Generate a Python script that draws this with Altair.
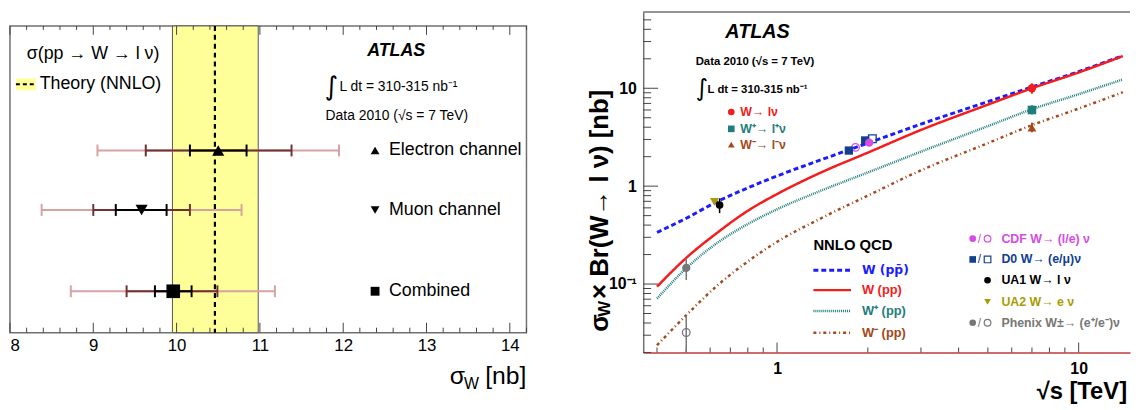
import altair as alt
import pandas as pd

# ---------------- left panel data ----------------
channels = ["Electron channel", "Muon channel", "Combined"]
channel_pos = [0.594, 0.400, 0.135]
channel_shape = ["triangle-up", "triangle-down", "square"]
channel_size = [150, 150, 190]
sigma_central = [10.50, 9.58, 9.96]
inner_lo = [10.16, 9.27, 9.74]
inner_hi = [10.84, 9.88, 10.18]
mid_lo = [9.63, 9.00, 9.40]
mid_hi = [11.38, 10.16, 10.49]
outer_lo = [9.05, 8.38, 8.73]
outer_hi = [11.95, 10.78, 11.18]
theory_central = [10.46]
theory_lo = [9.95]
theory_hi = [10.98]
left_major_ticks = [8, 9, 10, 11, 12, 13, 14]
left_minor_ticks = [round(8 + 0.2 * i, 1) for i in range(32) if i % 5 != 0]

# ---------------- right panel data ----------------
sqrt_s = [0.4, 0.5, 0.63, 0.8, 1.0, 1.4, 2.0, 3.0, 5.0, 7.0, 10.0, 14.0]
nnlo_w_ppbar = [0.337, 0.47, 0.69, 0.96, 1.27, 1.86, 2.75, 4.3, 7.3, 10.3, 14.8, 21.5]
nnlo_w_pp = [0.094, 0.185, 0.33, 0.56, 0.83, 1.38, 2.20, 3.75, 6.8, 10.0, 14.5, 21.3]
nnlo_wplus_pp = [0.071, 0.145, 0.26, 0.41, 0.58, 0.90, 1.38, 2.25, 4.1, 6.1, 8.7, 12.3]
nnlo_wminus_pp = [0.0237, 0.048, 0.095, 0.17, 0.27, 0.47, 0.80, 1.45, 2.75, 4.2, 6.2, 9.1]

atlas_s = [7.0]
atlas_w = [10.0]; atlas_w_lo = [8.8]; atlas_w_hi = [11.2]
atlas_wp = [6.0]; atlas_wp_lo = [5.4]; atlas_wp_hi = [6.7]
atlas_wm = [3.95]; atlas_wm_lo = [3.55]; atlas_wm_hi = [4.45]
cdf_filled_s = [2.02]; cdf_filled = [2.78]
cdf_open_s = [1.82]; cdf_open = [2.49]
d0_filled_s = [1.73, 1.96]; d0_filled = [2.31, 2.93]
d0_open_s = [2.07]; d0_open = [3.05]
ua1_s = [0.645]; ua1 = [0.64]; ua1_lo = [0.53]; ua1_hi = [0.75]
ua2_s = [0.62]; ua2 = [0.69]
phenix_s = [0.5]
phenix_filled = [0.146]; phenix_filled_lo = [0.11]; phenix_filled_hi = [0.185]
phenix_open = [0.032]; phenix_open_lo = [0.02]; phenix_open_hi = [0.048]

right_major_x = [1, 10]
right_minor_x = [0.4, 0.5, 0.6, 0.7, 0.8, 0.9, 2, 3, 4, 5, 6, 7, 8, 9]
right_major_y = [0.1, 1, 10]
right_minor_y = [0.02, 0.03, 0.04, 0.05, 0.06, 0.07, 0.08, 0.09,
                 0.2, 0.3, 0.4, 0.5, 0.6, 0.7, 0.8, 0.9,
                 2, 3, 4, 5, 6, 7, 8, 9, 20, 30, 40, 50]

# ---------------- styling ----------------
FONT = "Liberation Sans"
C_BLUE = "#1c1cff"
C_RED = "#f51c1c"
C_TEAL = "#1f7e7c"
C_BROWN = "#a5481c"
C_MAG = "#d64be6"
C_D0 = "#12408f"
C_UA2 = "#a89c00"
C_PHX = "#777777"
FRAME = "#707070"

WL, HL = 522, 310
WR, HR = 492, 344


def txt(text, x, y, size, color="black", weight="normal", style="normal",
        align="left", angle=0, baseline="middle", font=FONT):
    return alt.Chart(pd.DataFrame({"t": [text]})).mark_text(
        align=align, baseline=baseline, fontSize=size, fontWeight=weight,
        fontStyle=style, color=color, angle=angle, font=font
    ).encode(x=alt.value(x), y=alt.value(y), text="t:N")


# ================= LEFT PANEL =================
xs_l = alt.Scale(domain=[8, 14.2], nice=False, zero=False)
ys_l = alt.Scale(domain=[0, 1], nice=False, zero=False)
ax_l = alt.Axis(values=left_major_ticks, format="d", ticks=False, domain=False,
                grid=False, labelFontSize=17, labelPadding=5, labelColor="black",
                title=None, labelFont=FONT)


def XL(f):
    return alt.X(f, type="quantitative", scale=xs_l, axis=ax_l)


def YL(f):
    return alt.Y(f, type="quantitative", scale=ys_l, axis=None)


band = alt.Chart(pd.DataFrame({"lo": theory_lo, "hi": theory_hi})).mark_rect(
    fill="#ffff99", stroke="#555555", strokeWidth=1
).encode(x=XL("lo"), x2="hi:Q", y=alt.value(0), y2=alt.value(HL))

theory_line = alt.Chart(pd.DataFrame({"v": theory_central})).mark_rule(
    color="black", strokeWidth=2.2, strokeDash=[5, 4]
).encode(x=XL("v"), y=alt.value(0), y2=alt.value(HL))

tick_layers_l = []
for vals, ln in [(left_major_ticks, 10), (left_minor_ticks, 5)]:
    d = pd.DataFrame({"v": vals})
    tick_layers_l.append(alt.Chart(d).mark_rule(color="#444444", strokeWidth=1).encode(
        x=XL("v"), y=alt.value(HL), y2=alt.value(HL - ln)))
    tick_layers_l.append(alt.Chart(d).mark_rule(color="#444444", strokeWidth=1).encode(
        x=XL("v"), y=alt.value(0), y2=alt.value(ln - 1)))

err_layers = []
for lo, hi, col in [(outer_lo, outer_hi, "#d6a2a2"), (mid_lo, mid_hi, "#6e3232"),
                    (inner_lo, inner_hi, "black")]:
    d = pd.DataFrame({"lo": lo, "hi": hi, "y": channel_pos})
    err_layers.append(alt.Chart(d).mark_rule(color=col, strokeWidth=2).encode(
        x=XL("lo"), x2="hi:Q", y=YL("y")))
    dc = pd.DataFrame({"v": lo + hi, "y": channel_pos + channel_pos})
    err_layers.append(alt.Chart(dc).mark_rule(color=col, strokeWidth=2, yOffset=-6, y2Offset=6).encode(
        x=XL("v"), y=YL("y"), y2="y:Q"))

ch_df = pd.DataFrame({"ch": channels, "y": channel_pos, "c": sigma_central,
                      "shape": channel_shape, "sz": channel_size})
markers_l = alt.Chart(ch_df).mark_point(filled=True, color="black", opacity=1).encode(
    x=XL("c"), y=YL("y"), shape=alt.Shape("shape:N", scale=None),
    size=alt.Size("sz:Q", scale=None))
legend_pts_l = alt.Chart(ch_df).mark_point(filled=True, color="black", opacity=1, size=80).encode(
    x=alt.value(369), y=YL("y"), shape=alt.Shape("shape:N", scale=None))
legend_txt_l = alt.Chart(ch_df).mark_text(align="left", baseline="middle", fontSize=18,
                                          font=FONT, color="black").encode(
    x=alt.value(383), y=YL("y"), text="ch:N")

swatch = alt.Chart(pd.DataFrame({"a": [0]})).mark_rect(fill="#ffff99").encode(
    x=alt.value(6), x2=alt.value(26), y=alt.value(53), y2=alt.value(65))
swatch_line = alt.Chart(pd.DataFrame({"a": [0]})).mark_rule(
    color="black", strokeWidth=2, strokeDash=[4, 3]).encode(
    x=alt.value(6), x2=alt.value(26), y=alt.value(59))

left_text = [
    txt("σ(pp → W → l ν)", 17, 28, 18),
    txt("Theory (NNLO)", 30, 59, 18),
    txt("ATLAS", 361, 25, 18, weight="bold", style="italic"),
    txt("∫", 318, 62, 26, font="DejaVu Sans"),
    txt("L dt = 310-315 nb⁻¹", 333, 62, 14),
    txt("Data 2010 (√s = 7 TeV)", 319, 91, 14),
    txt("σ", 460, 354, 25, align="right"),
    txt("W", 474, 362, 16, align="right"),
    txt("[nb]", 522, 354, 25, align="right"),
]

left = alt.layer(
    band, *tick_layers_l, theory_line, *err_layers, markers_l,
    legend_pts_l, legend_txt_l, swatch, swatch_line, *left_text
).properties(width=WL, height=HL,
             view=alt.ViewBackground(stroke=FRAME, strokeWidth=1.5, fill="white"))

spacer = alt.Chart(pd.DataFrame({"a": [0]})).mark_rule(strokeOpacity=0, strokeWidth=0).encode(
    x=alt.value(0), x2=alt.value(1), y=alt.value(0)
).properties(width=1, height=1, view=alt.ViewBackground(stroke="transparent"))

left_col = alt.vconcat(spacer, left, spacing=10)

# ================= RIGHT PANEL =================
xs_r = alt.Scale(type="log", domain=[0.36, 14.8], nice=False)
ys_r = alt.Scale(type="log", domain=[0.02, 60], nice=False)
ax_rx = alt.Axis(values=right_major_x, format="~g", ticks=False, grid=False,
                 domainColor="#c03a3a", domainWidth=1.5, labelFontSize=16,
                 labelFontWeight="bold", labelPadding=8, labelColor="black",
                 title=None, labelFont=FONT)
ax_ry = alt.Axis(values=right_major_y, ticks=False, grid=False,
                 labelExpr="datum.value < 0.5 ? '10⁻¹' : format(datum.value, '~g')",
                 domainColor=FRAME, domainWidth=1.5, labelFontSize=16,
                 labelFontWeight="bold", labelPadding=7, labelColor="black",
                 title=None, labelFont=FONT)


def XR(f):
    return alt.X(f, type="quantitative", scale=xs_r, axis=ax_rx)


def YR(f):
    return alt.Y(f, type="quantitative", scale=ys_r, axis=ax_ry)


tick_layers_r = []
for vals, ln in [(right_major_x, 10), (right_minor_x, 5)]:
    tick_layers_r.append(alt.Chart(pd.DataFrame({"v": vals})).mark_rule(
        color="#444444", strokeWidth=1).encode(x=XR("v"), y=alt.value(HR), y2=alt.value(HR - ln)))
for vals, ln in [(right_major_y, 15), (right_minor_y, 8)]:
    tick_layers_r.append(alt.Chart(pd.DataFrame({"v": vals})).mark_rule(
        color="#444444", strokeWidth=1).encode(y=YR("v"), x=alt.value(0), x2=alt.value(ln)))

top_frame = alt.Chart(pd.DataFrame({"a": [0]})).mark_rule(color=FRAME, strokeWidth=1.5).encode(
    x=alt.value(0), x2=alt.value(WR), y=alt.value(0))

curve_layers = []
for vals, col, dash, w in [
    (nnlo_wminus_pp, C_BROWN, [3, 3, 1, 3], 2.5),
    (nnlo_wplus_pp, C_TEAL, [1, 1], 2.5),
    (nnlo_w_ppbar, C_BLUE, [5, 3], 3),
    (nnlo_w_pp, C_RED, [1, 0], 2.5),
]:
    d = pd.DataFrame({"s": sqrt_s, "v": vals})
    curve_layers.append(alt.Chart(d).mark_line(color=col, strokeWidth=w, strokeDash=dash,
                                               interpolate="monotone").encode(
        x=XR("s"), y=YR("v")))


def errbar(s, lo, hi, col, w=1.5):
    d = pd.DataFrame({"s": s, "lo": lo, "hi": hi})
    return alt.Chart(d).mark_rule(color=col, strokeWidth=w).encode(x=XR("s"), y=YR("lo"), y2="hi:Q")


def pts(s, v, col, shape, size, filled=True):
    d = pd.DataFrame({"s": s, "v": v})
    if filled:
        m = alt.Chart(d).mark_point(filled=True, color=col, opacity=1, shape=shape, size=size)
    else:
        m = alt.Chart(d).mark_point(filled=False, color=col, opacity=1, shape=shape, size=size,
                                    strokeWidth=1.3)
    return m.encode(x=XR("s"), y=YR("v"))


meas_layers = [
    errbar(phenix_s, phenix_open_lo, phenix_open_hi, C_PHX),
    errbar(phenix_s, phenix_filled_lo, phenix_filled_hi, C_PHX),
    pts(phenix_s, phenix_open, C_PHX, "circle", 60, filled=False),
    pts(phenix_s, phenix_filled, C_PHX, "circle", 70),
    pts(ua2_s, ua2, C_UA2, "triangle-down", 80),
    errbar(ua1_s, ua1_lo, ua1_hi, "black"),
    pts(ua1_s, ua1, "black", "circle", 60),
    pts(cdf_open_s, cdf_open, C_MAG, "circle", 60, filled=False),
    pts(d0_filled_s, d0_filled, C_D0, "square", 70),
    pts(d0_open_s, d0_open, C_D0, "square", 60, filled=False),
    pts(cdf_filled_s, cdf_filled, C_MAG, "circle", 70),
    errbar(atlas_s, atlas_w_lo, atlas_w_hi, C_RED, 2),
    pts(atlas_s, atlas_w, C_RED, "circle", 70),
    errbar(atlas_s, atlas_wp_lo, atlas_wp_hi, C_TEAL, 2),
    pts(atlas_s, atlas_wp, C_TEAL, "square", 75),
    errbar(atlas_s, atlas_wm_lo, atlas_wm_hi, C_BROWN, 2),
    pts(atlas_s, atlas_wm, C_BROWN, "triangle-up", 80),
]


def lpt(x, y, col, shape, size=55, filled=True):
    return alt.Chart(pd.DataFrame({"a": [0]})).mark_point(
        filled=filled, color=col, opacity=1, shape=shape, size=size, strokeWidth=1.2
    ).encode(x=alt.value(x), y=alt.value(y))


def lline(y, col, dash, w):
    return alt.Chart(pd.DataFrame({"a": [0]})).mark_rule(
        color=col, strokeWidth=w, strokeDash=dash).encode(
        x=alt.value(172), x2=alt.value(210), y=alt.value(y))


right_legend = [
    txt("ATLAS", 83, 20, 20, weight="bold", style="italic"),
    txt("Data 2010 (√s = 7 TeV)", 53, 50, 11.5, weight="bold"),
    txt("∫", 53, 78, 24, font="DejaVu Sans"),
    txt("L dt = 310-315 nb⁻¹", 65, 79, 11.5, weight="bold"),
    lpt(89, 101, C_RED, "circle", 45), txt("W→ lν", 98, 101, 12.5, C_RED, "bold"),
    lpt(89, 118, C_TEAL, "square", 45), txt("W⁺→ l⁺ν", 98, 118, 12.5, C_TEAL, "bold"),
    lpt(89, 134, C_BROWN, "triangle-up", 45), txt("W⁻→ l⁻ν", 98, 134, 12.5, C_BROWN, "bold"),
    txt("NNLO QCD", 172, 235, 15, weight="bold"),
    lline(261, C_BLUE, [5, 3], 3),
    txt("W (pp\u0304)", 221, 261, 12.5, C_BLUE, "bold", font="DejaVu Sans"),
    lline(281, C_RED, [1, 0], 2.5), txt("W (pp)", 221, 281, 13, C_RED, "bold"),
    lline(302, C_TEAL, [1, 1], 2.5), txt("W⁺ (pp)", 221, 302, 13, C_TEAL, "bold"),
    lline(324, C_BROWN, [3, 3, 1, 3], 2.5), txt("W⁻ (pp)", 221, 324, 13, C_BROWN, "bold"),
    lpt(333, 229, C_MAG, "circle", 45), txt("/", 338, 229, 12, C_MAG),
    lpt(348, 229, C_MAG, "circle", 45, filled=False),
    txt("CDF W→ (l/e) ν", 362, 229, 12.5, C_MAG, "bold"),
    lpt(333, 250, C_D0, "square", 45), txt("/", 338, 250, 12, C_D0),
    lpt(348, 250, C_D0, "square", 45, filled=False),
    txt("D0 W→ (e/μ)ν", 362, 250, 12.5, C_D0, "bold"),
    lpt(348, 271, "black", "circle", 45),
    txt("UA1 W→ l ν", 362, 271, 12.5, "black", "bold"),
    lpt(348, 293, C_UA2, "triangle-down", 45),
    txt("UA2 W→ e ν", 362, 293, 12.5, C_UA2, "bold"),
    lpt(333, 314, C_PHX, "circle", 45), txt("/", 338, 314, 12, C_PHX),
    lpt(348, 314, C_PHX, "circle", 45, filled=False),
    txt("Phenix W±→ (e⁺/e⁻)ν", 362, 314, 12.5, C_PHX, "bold"),
    txt("√s [TeV]", 489, 384, 24, weight="bold", align="right"),
    txt("σ", -44, 323, 26, weight="bold", angle=270),
    txt("W", -39, 308, 17, weight="bold", angle=270),
    txt("× Br(W→ l ν) [nb]", -44, 290, 26, weight="bold", angle=270),
]

right = alt.layer(
    *tick_layers_r, top_frame, *curve_layers, *meas_layers, *right_legend
).properties(width=WR, height=HR,
             view=alt.ViewBackground(stroke="transparent", fill="white"))

chart = alt.hconcat(left_col, right, spacing=58).properties(
    padding={"left": 0, "right": 0, "top": 0, "bottom": 0}
).configure(font=FONT).configure_axis(labelFont=FONT)

chart.save("out.html", embed_options={"renderer": "svg", "actions": False})
